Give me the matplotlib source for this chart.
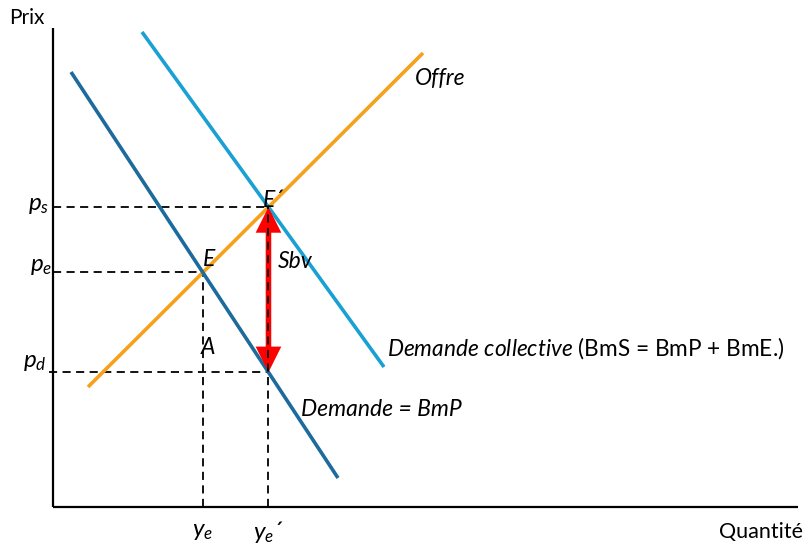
import numpy as np
import matplotlib
matplotlib.use('Agg')
from matplotlib import pyplot as plt

plt.rcParams['font.family'] = ['Lato', 'DejaVu Sans']
plt.rcParams['mathtext.fontset'] = 'custom'
plt.rcParams['mathtext.it'] = 'Lato:italic'
plt.rcParams['mathtext.rm'] = 'Lato'

# Curves as (quantity, price) end points, origin at the corner of the axes
offre_q = [35, 370]
offre_p = [120, 454]
demande_q = [18, 285]
demande_p = [435, 29]
collective_q = [89, 331]
collective_p = [475, 140]

axis_q_max = 745
axis_p_max = 479

c_offre = '#F7A01C'
c_demande = '#1D6B9C'
c_collective = '#1BA0D3'


def line_coef(q, p):
    slope = (p[1] - p[0]) / (q[1] - q[0])
    return slope, p[0] - slope * q[0]


def intersect(a, b):
    q = (b[1] - a[1]) / (a[0] - b[0])
    return q, a[0] * q + a[1]


off = line_coef(offre_q, offre_p)
dem = line_coef(demande_q, demande_p)
col = line_coef(collective_q, collective_p)

ye, pe = intersect(off, dem)
ye2, ps = intersect(off, col)
pd_ = dem[0] * ye2 + dem[1]

fig = plt.figure(figsize=(8.07, 5.45), dpi=100)
ax = fig.add_axes([0, 0, 1, 1])
ax.set_xlim(-53, 754)
ax.set_ylim(-38, 507)
ax.axis('off')

# axes
ax.plot([0, 0], [0, axis_p_max], c='k', lw=1.6, solid_capstyle='butt')
ax.plot([0, axis_q_max], [0, 0], c='k', lw=1.6, solid_capstyle='butt')

# dashed guides
dash = dict(c='k', lw=1.3, dashes=(4.5, 3))
ax.plot([0, ye], [pe, pe], **dash)
ax.plot([0, ye2], [ps, ps], **dash)
ax.plot([-4, ye2], [pd_, pd_], **dash)
ax.plot([ye, ye], [0, pe], **dash)

# subsidy arrow, dashed guide drawn over it
ax.annotate('', xy=(ye2, ps), xytext=(ye2, pd_),
            arrowprops=dict(arrowstyle='<|-|>,head_length=1.2,head_width=0.6',
                            color='#FF0000', lw=4, shrinkA=0, shrinkB=0,
                            joinstyle='miter', capstyle='butt'))
ax.plot([ye2, ye2], [0, ps], zorder=4, **dash)

ax.plot(offre_q, offre_p, c=c_offre, lw=2.6, solid_capstyle='butt')
ax.plot(demande_q, demande_p, c=c_demande, lw=2.6, solid_capstyle='butt')
ax.plot(collective_q, collective_p, c=c_collective, lw=2.6, solid_capstyle='butt')

it = dict(fontsize=16.5, style='italic')
ax.text(-44, 489, 'Prix', fontsize=15, ha='left', va='center')
ax.text(750, -25, 'Quantité', fontsize=15.5, ha='right', va='center')
ax.text(362, 429, 'Offre', ha='left', va='center', **it)
ax.text(248, 98, 'Demande = BmP', ha='left', va='center', **it)
ax.text(334, 159, r'$\mathit{Demande\ collective}$ (BmS = BmP + BmE.)',
        ha='left', va='center', fontsize=16.3)
ax.text(225, 245, 'Sbv', ha='left', va='center', **it)
ax.text(ye, pe + 13, 'E', ha='left', va='center', **it)
ax.text(ye2 - 6, ps + 7, 'E´', ha='left', va='center', **it)
ax.text(ye - 2, 159, 'A', ha='left', va='center', **it)

sub = dict(fontsize=17.5, va='center')
ax.text(-4, ps + 2, r'$p_s$', ha='right', **sub)
ax.text(-1, pe + 6, r'$p_e$', ha='right', **sub)
ax.text(-6, pd_ + 10, r'$p_d$', ha='right', **sub)
ax.text(ye, -25, r'$y_e$', ha='center', **sub)
ax.text(ye2, -25, r'$y_e$´', ha='center', **sub)

fig.savefig('out.png', dpi=100)
